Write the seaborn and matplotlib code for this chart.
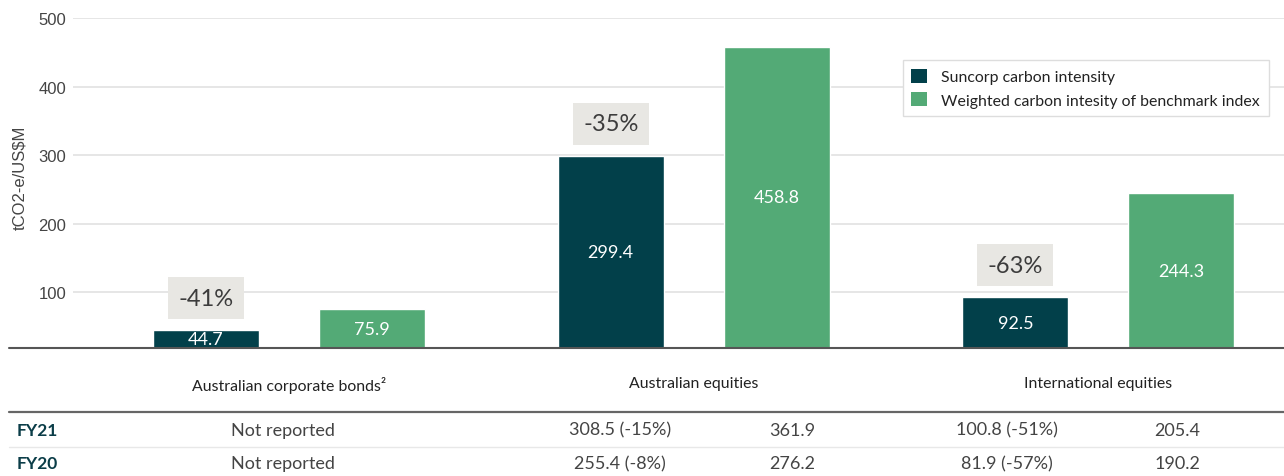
import matplotlib
matplotlib.use("Agg")
import matplotlib.pyplot as plt
import seaborn as sns
import pandas as pd
from matplotlib.patches import Rectangle, Patch
from matplotlib.lines import Line2D

# ---------------- data ----------------
categories = ["Australian corporate bonds²", "Australian equities", "International equities"]
series = ["Suncorp carbon intensity", "Weighted carbon intesity of benchmark index"]
suncorp = [44.7, 299.4, 92.5]
benchmark = [75.9, 458.8, 244.3]
reductions = ["-41%", "-35%", "-63%"]
yticks = [100, 200, 300, 400, 500]
ylabel = "tCO2-e/US$M"
row_labels = ["FY21", "FY20"]
fy21_cells = ["Not reported", "308.5 (-15%)", "361.9", "100.8 (-51%)", "205.4"]
fy20_cells = ["Not reported", "255.4 (-8%)", "276.2", "81.9 (-57%)", "190.2"]

# ---------------- style ----------------
DARK = "#02404A"
GREEN = "#53AA76"
BOX = "#E8E7E3"
TXT = "#3C3C3C"

sns.set_style("white")
plt.rcParams["font.family"] = ["Lato", "DejaVu Sans"]

W, H = 1284, 477
fig = plt.figure(figsize=(W / 100, H / 100), dpi=100)
YMIN, YMAX = 18.2, 500
ax = fig.add_axes([73 / W, 1 - 349.3 / H, 1 - 73 / W, (349.3 - 19.3) / H])

df = pd.DataFrame({
    "category": categories * 2,
    "series": [series[0]] * len(categories) + [series[1]] * len(categories),
    "value": suncorp + benchmark,
})

sns.barplot(data=df, x="category", y="value", hue="series", order=categories,
            hue_order=series, palette=[DARK, GREEN], width=0.82, gap=0.361,
            saturation=1, ax=ax, legend=False, zorder=3)

ax.set_ylim(YMIN, YMAX)
ax.set_xlim(-0.534, 2.459)
ax.set_yticks(yticks)
ax.set_yticklabels([str(t) for t in yticks], fontfamily="Liberation Sans",
                   fontsize=12, color="#444444")
ax.yaxis.grid(True, color="#E2E2E2", linewidth=1.2, zorder=0)
ax.xaxis.grid(False)
ax.tick_params(axis="y", length=0, pad=5)
ax.tick_params(axis="x", length=0, pad=20)
for lab in ax.get_xticklabels():
    lab.set_fontsize(11.4)
    lab.set_color("#222222")
ax.set_xlabel("")
ax.set_ylabel(ylabel, fontfamily="Liberation Sans", fontsize=12, color="#444444")
ax.yaxis.set_label_coords(-46 / (W - 73), 0.52)
for s in ax.spines.values():
    s.set_visible(False)

# baseline extending to the left
ax.plot([-(73 - 9) / (W - 73), 1], [YMIN, YMIN], transform=ax.get_yaxis_transform(),
        color="#555555", linewidth=1.5, clip_on=False, zorder=5)

# value labels and reduction boxes
dark_bars = ax.containers[0]
green_bars = ax.containers[1]
for i, bar in enumerate(dark_bars):
    cx = bar.get_x() + bar.get_width() / 2
    v = suncorp[i]
    ax.text(cx, (YMIN + v) / 2, f"{v}", ha="center", va="center", color="white",
            fontsize=13, zorder=6)
    bw = 76 / 404.6
    bh = 42 / 0.6855
    y0 = v + 11 / 0.6855
    ax.add_patch(Rectangle((cx - bw / 2, y0), bw, bh, facecolor=BOX, edgecolor="none",
                           zorder=4))
    ax.text(cx, y0 + bh / 2, reductions[i], ha="center", va="center", color=TXT,
            fontsize=17, zorder=6)
for i, bar in enumerate(green_bars):
    cx = bar.get_x() + bar.get_width() / 2
    v = benchmark[i]
    ax.text(cx, (YMIN + v) / 2, f"{v}", ha="center", va="center", color="white",
            fontsize=13, zorder=6)

# legend
handles = [Patch(facecolor=DARK, edgecolor="none"), Patch(facecolor=GREEN, edgecolor="none")]
leg = fig.legend(handles, series, loc="upper left",
                 bbox_to_anchor=(902.7 / W, 1 - 61 / H), bbox_transform=fig.transFigure,
                 fontsize=11.4, frameon=True, fancybox=False, framealpha=1,
                 edgecolor="#DDDDDD", handlelength=1.0, handleheight=1.0,
                 handletextpad=0.9, labelspacing=0.5, borderpad=0.55, borderaxespad=0)
leg.get_frame().set_linewidth(1)
for t in leg.get_texts():
    t.set_color("#222222")

# table below
fig.add_artist(Line2D([9 / W, 1], [1 - 412.7 / H] * 2, transform=fig.transFigure,
                      color="#666666", linewidth=1.6))
fig.add_artist(Line2D([9 / W, 1], [1 - 447.5 / H] * 2, transform=fig.transFigure,
                      color="#E8E8E8", linewidth=1))
cell_x = [283, 620, 792, 1007, 1177]
row_y = [430.7, 464.3]
for r, cells in enumerate([fy21_cells, fy20_cells]):
    fig.text(17 / W, 1 - row_y[r] / H, row_labels[r], ha="left", va="center",
             fontsize=12.5, fontweight="bold", color="#0B3D48")
    for c, txt in enumerate(cells):
        fig.text(cell_x[c] / W, 1 - row_y[r] / H, txt, ha="center", va="center",
                 fontsize=13, color="#444444")

fig.savefig("out.png", dpi=100)
